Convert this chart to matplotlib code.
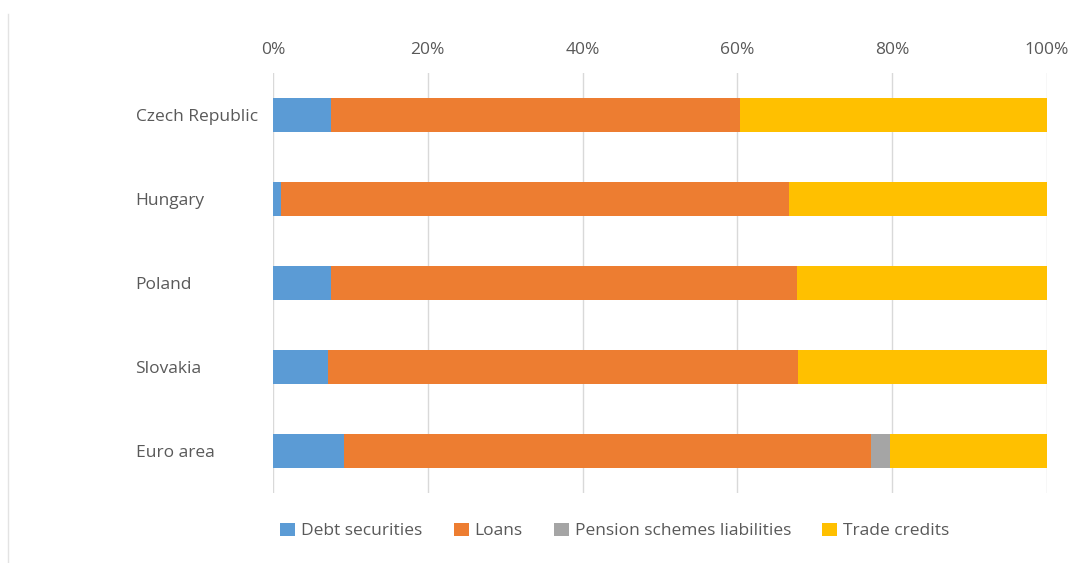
import matplotlib
matplotlib.use('Agg')
import matplotlib.pyplot as plt
from matplotlib.lines import Line2D
from matplotlib.ticker import PercentFormatter
import numpy as np

plt.rcParams['font.family'] = ['Open Sans', 'DejaVu Sans']

countries = ['Czech Republic', 'Hungary', 'Poland', 'Slovakia', 'Euro area']
debt_securities = [7.5, 1.0, 7.5, 7.1, 9.2]
loans = [52.8, 65.7, 60.2, 60.7, 68.1]
pension_schemes = [0.0, 0.0, 0.0, 0.0, 2.4]
trade_credits = [39.7, 33.3, 32.3, 32.2, 20.3]

series = [
    ('Debt securities', debt_securities, '#5b9bd5'),
    ('Loans', loans, '#ed7d31'),
    ('Pension schemes liabilities', pension_schemes, '#a5a5a5'),
    ('Trade credits', trade_credits, '#ffc000'),
]

fig = plt.figure(figsize=(10.72, 5.63), dpi=100)
ax = fig.add_axes([273 / 1072, 1 - 493 / 563, (1047 - 273) / 1072, 420 / 563])

y = np.arange(len(countries))
left = np.zeros(len(countries))
for name, vals, color in series:
    vals = np.array(vals)
    ax.barh(y, vals, left=left, height=0.4, color=color, label=name, zorder=3)
    left += vals

ax.set_xlim(0, 100)
ax.set_ylim(len(countries) - 0.5, -0.5)
ax.set_xticks(np.arange(0, 101, 20))
ax.xaxis.set_major_formatter(PercentFormatter(decimals=0))
ax.xaxis.tick_top()
ax.tick_params(axis='x', length=0, pad=11, labelsize=12.5, labelcolor='#595959')
ax.set_yticks(y)
ax.set_yticklabels(countries, ha='left')
ax.tick_params(axis='y', length=0, pad=99, labelsize=12.5, labelcolor='#595959')
ax.grid(axis='x', color='#d9d9d9', linewidth=1, zorder=0)
for s in ax.spines.values():
    s.set_visible(False)

ax.legend(loc='center', bbox_to_anchor=(615 / 1072, 1 - 531 / 563),
          bbox_transform=fig.transFigure, ncol=4, frameon=False,
          fontsize=12.5, labelcolor='#595959', handlelength=0.85,
          handleheight=0.85, handletextpad=0.35, columnspacing=1.8)

fig.add_artist(Line2D([8 / 1072, 8 / 1072], [0, 1 - 14 / 563],
                      transform=fig.transFigure, color='#e3e3e3', linewidth=1))

fig.savefig('out.png', dpi=100)
